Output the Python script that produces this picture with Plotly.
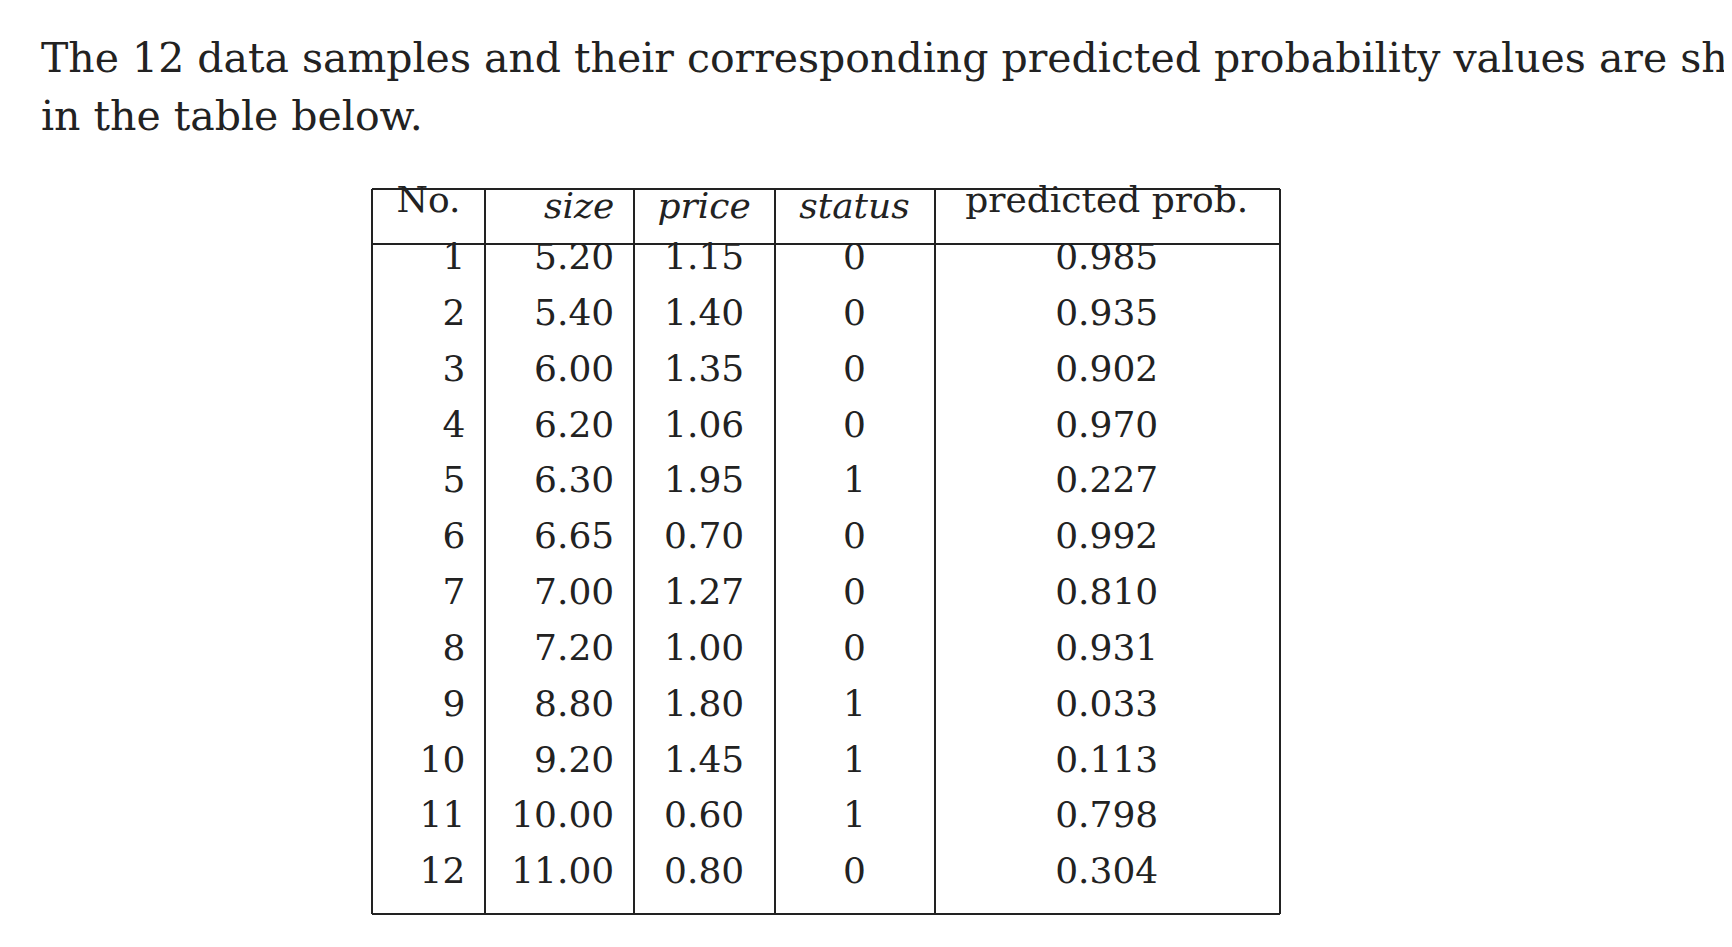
import plotly.graph_objects as go

W, H = 1732, 947

headers = ["No.", "<i>size</i>", "<i>price</i>", "<i>status</i>", "predicted prob."]
no = [str(i) for i in range(1, 13)]
size = ["5.20", "5.40", "6.00", "6.20", "6.30", "6.65", "7.00", "7.20", "8.80", "9.20", "10.00", "11.00"]
price = ["1.15", "1.40", "1.35", "1.06", "1.95", "0.70", "1.27", "1.00", "1.80", "1.45", "0.60", "0.80"]
status = ["0", "0", "0", "0", "1", "0", "0", "0", "1", "1", "1", "0"]
prob = ["0.985", "0.935", "0.902", "0.970", "0.227", "0.992", "0.810", "0.931", "0.033", "0.113", "0.798", "0.304"]

# table box in pixels
left, right, top, bottom = 364, 1272, 181, 906
col_edges = [364, 477, 626, 767, 927, 1272]
header_bottom = 236
row_h = (bottom - header_bottom) / 12
shift = 12  # table text sits low in its cells, lift it

font = dict(family="DejaVu Serif", size=36, color="#222")
pfont = dict(family="DejaVu Serif", size=41, color="#222")

def pad(vals):
    return [v + "\u00a0" for v in vals]

fig = go.Figure(go.Table(
    domain=dict(x=[left / W, right / W], y=[1 - (bottom - shift) / H, 1 - (top - shift) / H]),
    columnwidth=[col_edges[i + 1] - col_edges[i] for i in range(5)],
    header=dict(values=["No.", "<i>size</i>\u00a0", "<i>price</i>", "<i>status</i>", "predicted prob."],
                align=["center", "right", "center", "center", "center"],
                fill_color="white", line_color="rgba(0,0,0,0)", font=font,
                height=header_bottom - top),
    cells=dict(values=[pad(no), pad(size), price, status, prob],
               align=["right", "right", "center", "center", "center"],
               fill_color="white", line_color="rgba(0,0,0,0)", font=font,
               height=row_h),
))

def px_line(x0, y0, x1, y1):
    fig.add_shape(type="line", xref="paper", yref="paper",
                  x0=x0 / W, x1=x1 / W, y0=1 - y0 / H, y1=1 - y1 / H,
                  line=dict(color="#222", width=2))

px_line(left, top, right, top)
px_line(left, bottom, right, bottom)
px_line(left, header_bottom, right, header_bottom)
for x in col_edges:
    px_line(x, top, x, bottom)

fig.add_annotation(text="The 12 data samples and their corresponding predicted probability values are shown",
                   x=31 / W, y=1 - 50 / H, xref="paper", yref="paper", xanchor="left", yanchor="middle",
                   showarrow=False, font=pfont)
fig.add_annotation(text="in the table below.",
                   x=31 / W, y=1 - 108 / H, xref="paper", yref="paper", xanchor="left", yanchor="middle",
                   showarrow=False, font=pfont)

fig.update_layout(width=W, height=H, margin=dict(l=0, r=0, t=0, b=0),
                  paper_bgcolor="white", plot_bgcolor="white")
fig.write_html("out.html")
